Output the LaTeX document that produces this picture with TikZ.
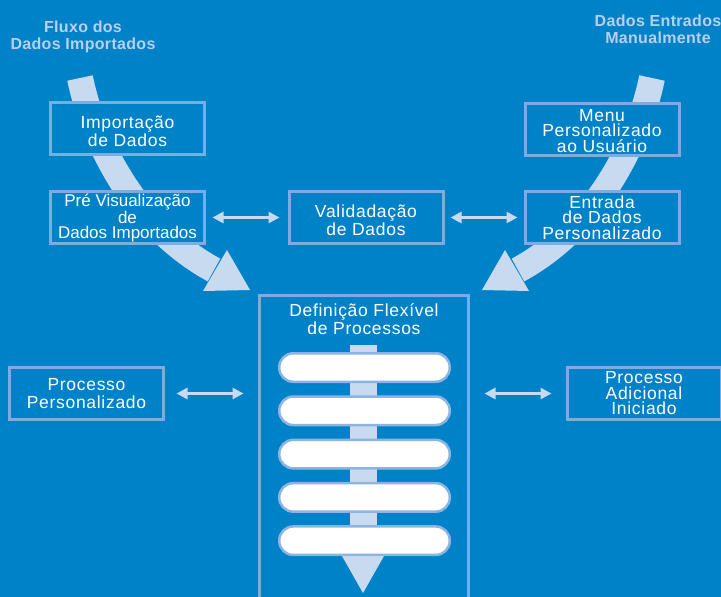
\documentclass[tikz,border=0pt]{standalone}
\usepackage{fontspec}
\setmainfont{Liberation Sans}
\newfontfamily\boxfont[LetterSpace=4]{Liberation Sans}
\newfontfamily\prefont{Liberation Sans}
\newfontfamily\labfont[LetterSpace=2]{Liberation Sans}
\usepackage{tikz}
\usetikzlibrary{arrows.meta,calc,positioning}

\definecolor{bgblue}{RGB}{0,130,200}
\definecolor{boxedge}{RGB}{125,172,224}
\definecolor{light}{RGB}{200,218,240}
\definecolor{labtext}{RGB}{185,207,235}
\definecolor{pilledge}{RGB}{140,180,225}

% taller first line, pushes a box text down
\newcommand{\boxlift}[1]{\rule{0pt}{#1}}

\tikzset{
  box/.style={draw=boxedge, line width=3pt, fill=bgblue, text=white,
    minimum width=154pt, minimum height=52pt, inner sep=0pt, align=center,
    font=\boxfont\fontsize{17.5}{18}\selectfont},
  boxthree/.style={box, font=\boxfont\fontsize{17.5}{15.5}\selectfont},
  toplab/.style={text=labtext, align=center, inner sep=0pt,
    font=\labfont\bfseries\fontsize{16}{17}\selectfont},
  flow/.style={draw=light, line width=26pt},
  dbl/.style={draw=light, line width=3pt, {Triangle[length=11pt,width=11pt]}-{Triangle[length=11pt,width=11pt]}},
  pill/.style={draw=pilledge, line width=2.5pt, fill=white, minimum width=170.5pt,
    minimum height=28.5pt, rounded corners=14pt, inner sep=0pt}
}

\begin{document}
\begin{tikzpicture}[x=1pt,y=-1pt]
  \useasboundingbox (0,0) rectangle (721,597);
  \clip (0,0) rectangle (721,597);
  \fill[bgblue] (0,0) rectangle (721,597);

  % big flow arrows
  \coordinate (lsrc) at (80,78);
  \coordinate (lend) at (214,270);
  \coordinate (ltip) at (250,290);
  \coordinate (rsrc) at (652,78);
  \coordinate (rend) at (518,270);
  \coordinate (rtip) at (482,290);
  \draw[flow] (lsrc) .. controls (95,150) and (140,230) .. (lend);
  \fill[light] (ltip) -- (227,250) -- (203,291) -- cycle;
  \draw[flow] (rsrc) .. controls (637,150) and (592,230) .. (rend);
  \fill[light] (rtip) -- (505,250) -- (529,291) -- cycle;

  \node[toplab] (fluxo) at (83,37) {Fluxo dos\\Dados Importados};
  \node[toplab] (manual) at (658,29) {Dados Entrados\\Manualmente};

  \node[box] (imp) at (127.5,128.5) {\boxlift{19pt}Importação\\de Dados};
  \node[box, font=\prefont\fontsize{17}{15}\selectfont] (pre) at (127.5,217.5) {\boxlift{14pt}Pré Visualização\\de\\Dados Importados};
  \node[box] (val) at (366,217.5) {\boxlift{19pt}Validadação\\de Dados};
  \node[boxthree] (menu) at (602,129) {\boxlift{16pt}Menu\\Personalizado\\ao Usuário};
  \node[boxthree] (ent) at (602,217.5) {Entrada\\de Dados\\Personalizado};
  \node[box] (pp) at (86.5,393.5) {Processo\\Personalizado};
  \node[boxthree] (pa) at (644,393.5) {Processo\\Adicional\\Iniciado};

  % process definition column
  \node[box, minimum width=209pt, minimum height=320pt, anchor=north] (def) at (364,293.5) {};
  \node[box, draw=none, fill=none, minimum width=0pt, minimum height=0pt] (deftitle) at (364,319) {Definição Flexível\\de Processos};
  \fill[light] (350,345) rectangle (377,556);
  \fill[light] (342,556) -- (384,556) -- (363,593) -- cycle;
  \foreach \i in {0,...,4}
    \node[pill] (step\i) at (364.5,367.5+43.3*\i) {};

  \draw[dbl] ([xshift=6.5pt]pre.east) -- ([xshift=-8pt]val.west);
  \draw[dbl] ([xshift=6pt]val.east) -- ([xshift=-6pt]ent.west);
  \draw[dbl] ([xshift=11.5pt]pp.east) -- ([xshift=-14.5pt]pp.east -| def.west);
  \draw[dbl] ([xshift=14.5pt]pa.west -| def.east) -- ([xshift=-14pt]pa.west);
\end{tikzpicture}
\end{document}
